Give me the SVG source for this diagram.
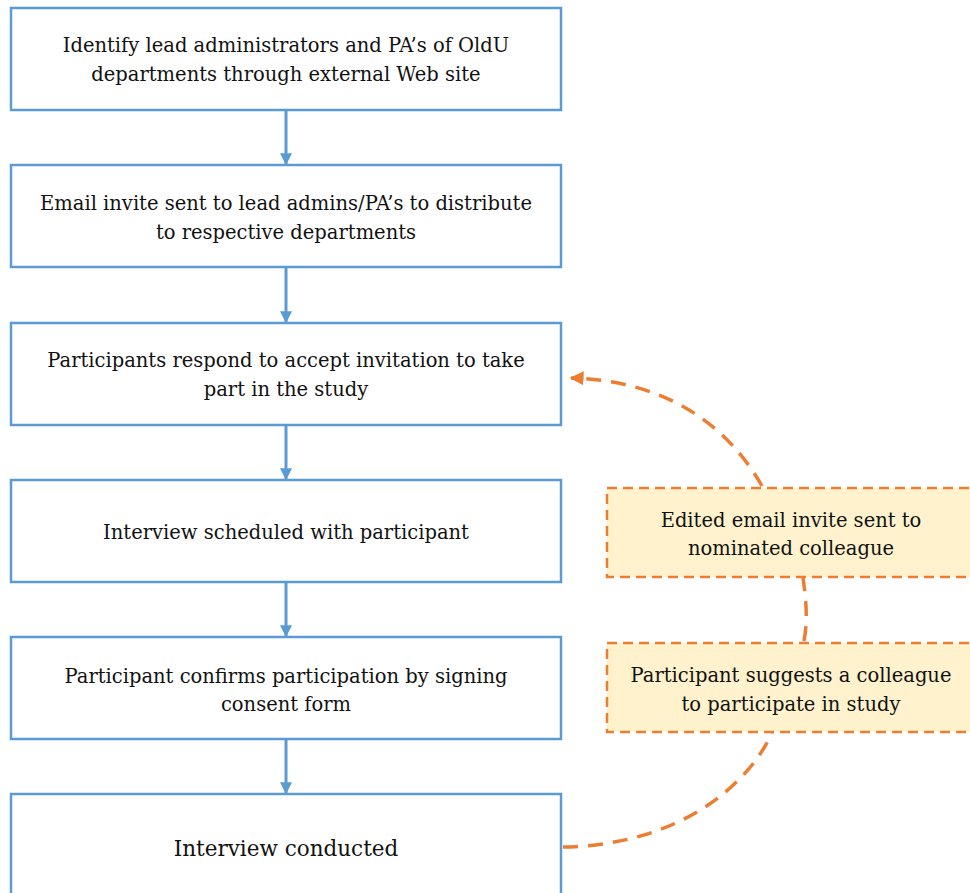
<svg xmlns="http://www.w3.org/2000/svg" width="970" height="893" viewBox="0 0 970 893">
<style>
.box{fill:#fff;stroke:#5B9BD5;stroke-width:2.5}
.obox{fill:#FFF2CC;stroke:#ED7D31;stroke-width:2.5;stroke-dasharray:10 6}
.t{font-family:"DejaVu Serif","Liberation Serif",serif;font-size:19.5px;fill:#111;text-anchor:middle}
.flow{stroke:#5B9BD5;stroke-width:3;fill:none}
.dash{stroke:#ED7D31;stroke-width:3.5;fill:none;stroke-dasharray:15 10}
</style>
<defs>
<marker id="ab" viewBox="0 0 10 10" refX="9" refY="5" markerWidth="4" markerHeight="4" orient="auto" markerUnits="strokeWidth">
<path d="M0,0 L10,5 L0,10 z" fill="#5B9BD5"/>
</marker>
<marker id="ao" viewBox="0 0 10 10" refX="9" refY="5" markerWidth="4" markerHeight="4" orient="auto" markerUnits="strokeWidth">
<path d="M0,0 L10,5 L0,10 z" fill="#ED7D31"/>
</marker>
</defs>
<g id="n1"><rect class="box" x="11" y="8" width="550" height="102"/>
<text class="t" x="286" y="52">Identify lead administrators and PA’s of OldU</text>
<text class="t" x="286" y="81">departments through external Web site</text></g>
<g id="n2"><rect class="box" x="11" y="165" width="550" height="102"/>
<text class="t" x="286" y="210">Email invite sent to lead admins/PA’s to distribute</text>
<text class="t" x="286" y="239">to respective departments</text></g>
<g id="n3"><rect class="box" x="11" y="323" width="550" height="102"/>
<text class="t" x="286" y="367">Participants respond to accept invitation to take</text>
<text class="t" x="286" y="396">part in the study</text></g>
<g id="n4"><rect class="box" x="11" y="480" width="550" height="102"/>
<text class="t" x="286" y="539">Interview scheduled with participant</text></g>
<g id="n5"><rect class="box" x="11" y="637" width="550" height="102"/>
<text class="t" x="286" y="683">Participant confirms participation by signing</text>
<text class="t" x="286" y="711">consent form</text></g>
<g id="n6"><rect class="box" x="11" y="794" width="550" height="110"/>
<text class="t" x="286" y="856" style="font-size:21.5px">Interview conducted</text></g>
<g id="o1"><rect class="obox" x="607" y="488" width="375" height="89"/>
<text class="t" x="791" y="527">Edited email invite sent to</text>
<text class="t" x="791" y="555">nominated colleague</text></g>
<g id="o2"><rect class="obox" x="607" y="643" width="375" height="89"/>
<text class="t" x="791" y="682">Participant suggests a colleague</text>
<text class="t" x="791" y="711">to participate in study</text></g>
<g id="connectors">
<line class="flow" x1="286" y1="111" x2="286" y2="164" marker-end="url(#ab)"/>
<line class="flow" x1="286" y1="268" x2="286" y2="322" marker-end="url(#ab)"/>
<line class="flow" x1="286" y1="426" x2="286" y2="479" marker-end="url(#ab)"/>
<line class="flow" x1="286" y1="583" x2="286" y2="636" marker-end="url(#ab)"/>
<line class="flow" x1="286" y1="740" x2="286" y2="793" marker-end="url(#ab)"/>
<path class="dash" d="M563,847 C680,845 748,785 772,733"/>
<path class="dash" d="M804,641 C808,620 806,598 803,578"/>
<path class="dash" d="M762,486 C720,412 650,380 571,378" marker-end="url(#ao)"/>
</g>
</svg>
